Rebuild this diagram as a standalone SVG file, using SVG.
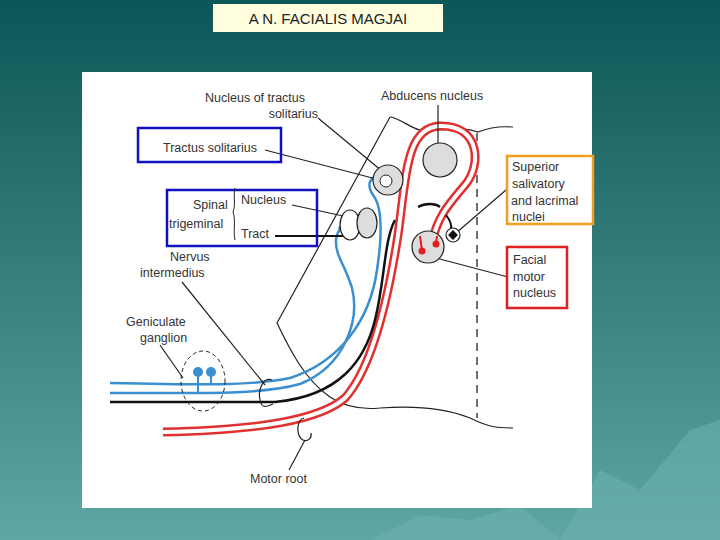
<svg xmlns="http://www.w3.org/2000/svg" width="720" height="540" viewBox="0 0 720 540">
<defs>
<linearGradient id="bg" x1="0" y1="0" x2="0" y2="1"><stop offset="0" stop-color="#0b5656"/><stop offset="1" stop-color="#5fa6a4"/></linearGradient>
<marker id="ab" markerWidth="6" markerHeight="6" refX="5" refY="3" orient="auto"><path d="M0,0L6,3L0,6z" fill="#3a8fd0"/></marker>
</defs>
<style>
text{font-family:"Liberation Sans",Arial,sans-serif;font-size:12.5px;fill:#333}
.ld{stroke:#222;stroke-width:1.2;fill:none}
.ol{stroke:#222;stroke-width:1.2;fill:none}
.bl{stroke:#3a8fd0;stroke-width:2.5;fill:none}
.nuc{fill:#ddd;stroke:#222;stroke-width:1.2}
</style>
<rect width="720" height="540" fill="url(#bg)"/>
<path d="M560,540 L600,470 L640,490 L690,430 L720,420 L720,540Z" fill="#6fb3b3" opacity="0.5"/>
<path d="M370,540 L420,515 L470,520 L520,505 L560,540Z" fill="#6fb3b3" opacity="0.5"/>
<g id="title"><rect x="213" y="4" width="230" height="28" fill="#ffffe0"/><text x="328" y="24" text-anchor="middle" style="font-size:15px;fill:#222">A N. FACIALIS MAGJAI</text></g>
<rect x="82" y="72" width="510" height="436" fill="#fff"/>
<g id="brainstem">
<path class="ol" d="M390,117 L277,323 C290,350 305,380 330,397 C345,407 360,410 380,408 C420,405 450,410 470,418 C490,428 500,428 513,428"/>
<path class="ol" d="M390,117 C400,118 410,128 420,130 C440,132 460,125 478,132 C488,128 500,126 513,127"/>
<path d="M477,133 L477,418" stroke="#222" stroke-width="1.3" stroke-dasharray="8,6"/>
</g>
<g id="connectors">
<path id="red" d="M163,432 C260,430 320,420 345,398 C372,368 388,300 398,235 C406,180 405,127 440,126 C480,125 482,165 465,185 C450,203 438,215 432,242" fill="none" stroke="#e03030" stroke-width="9"/>
<path d="M163,432 C260,430 320,420 345,398 C372,368 388,300 398,235 C406,180 405,127 440,126 C480,125 482,165 465,185 C450,203 438,215 432,242" fill="none" stroke="#fff" stroke-width="4"/>
<path class="bl" d="M110,383 C200,385 250,386 290,378 C340,362 370,320 377,270 C383,230 381,205 373,195 C365,182 372,172 386,180" marker-end="url(#ab)"/>
<path class="bl" d="M110,393 C200,393 260,395 300,384 C345,366 360,320 352,288 C345,265 335,255 336,240 C337,228 345,225 352,229" marker-end="url(#ab)"/>
<path d="M110,402 L275,402 C340,396 365,360 375,320 C385,280 384,240 395,220" fill="none" stroke="#111" stroke-width="2.5"/>
<path d="M418,207 C425,203 435,203 440,207" stroke="#111" stroke-width="2.5" fill="none"/>
<path d="M446,215 C450,220 452,225 451,230" stroke="#111" stroke-width="2" fill="none"/>
<path class="ld" d="M318,118 L388,176"/><path class="ld" d="M438,105 L438,160"/>
<path class="ld" d="M265,150 L384,181"/><path class="ld" d="M292,205 L362,220"/>
<path d="M275,236 L352,236" stroke="#111" stroke-width="2"/>
<path class="ld" d="M182,282 L265,385"/><path class="ld" d="M160,345 L183,378"/>
<path class="ld" d="M506,190 L456,233"/><path class="ld" d="M508,277 L436,258"/>
<path class="ld" d="M289,470 L305,440"/>
</g>
<g id="abducens"><circle cx="440" cy="160" r="17" class="nuc"/></g>
<g id="nts"><circle cx="388" cy="180" r="15" class="nuc"/><circle cx="386" cy="181" r="6" fill="#fff" stroke="#222"/></g>
<g id="spinal"><ellipse cx="350" cy="225" rx="10" ry="15" fill="#fff" stroke="#222" stroke-width="1.2"/><ellipse cx="367" cy="223" rx="10" ry="15" class="nuc"/></g>
<g id="facial"><circle cx="428" cy="247" r="16" class="nuc"/><circle cx="422" cy="251" r="3.5" fill="#e02020"/><circle cx="436" cy="244" r="3.5" fill="#e02020"/><path d="M422,251 L420,236 M436,244 L437,236" stroke="#e02020" stroke-width="2"/></g>
<g id="ssn"><circle cx="453" cy="235" r="7" fill="#fff" stroke="#222" stroke-width="1.2"/><rect x="449.5" y="231.5" width="7" height="7" transform="rotate(45 453 235)" fill="#111"/></g>
<g id="ganglion"><ellipse cx="203" cy="381" rx="22" ry="30" fill="none" stroke="#222" stroke-dasharray="4,3"/><circle cx="198" cy="372" r="5" fill="#3a8fd0"/><circle cx="211" cy="372" r="5" fill="#3a8fd0"/><path d="M198,372 L198,393 M211,372 L211,384" stroke="#3a8fd0" stroke-width="2"/></g>
<g id="rings"><path class="ol" d="M272,380 C262,376 258,392 260,400 C262,410 268,406 273,404"/><path class="ol" d="M304,418 C296,420 296,436 303,440 C308,442 312,438 311,433"/></g>
<g id="labels">
<text x="205" y="102">Nucleus of tractus</text><text x="318" y="118" text-anchor="end">solitarius</text>
<text x="381" y="100">Abducens nucleus</text>
<rect x="138" y="128" width="143" height="34" fill="none" stroke="#1010c0" stroke-width="2.5"/><text x="163" y="152">Tractus solitarius</text>
<rect x="167" y="190" width="150" height="56" fill="none" stroke="#1010c0" stroke-width="2.5"/>
<text x="193" y="209">Spinal</text><text x="169" y="228">trigeminal</text>
<path d="M235,188 C233,195 236,205 233,212 C236,220 233,232 235,240" stroke="#222" fill="none"/>
<text x="241" y="204">Nucleus</text><text x="241" y="238">Tract</text>
<text x="170" y="261">Nervus</text><text x="140" y="277">intermedius</text>
<text x="126" y="326">Geniculate</text><text x="140" y="342">ganglion</text>
<rect x="507" y="156" width="86" height="68" fill="none" stroke="#f0a020" stroke-width="2.5"/>
<text x="512" y="171">Superior</text><text x="512" y="188">salivatory</text><text x="511" y="205">and lacrimal</text><text x="512" y="221">nuclei</text>
<rect x="507" y="247" width="60" height="61" fill="none" stroke="#e02020" stroke-width="2.5"/>
<text x="513" y="264">Facial</text><text x="513" y="281">motor</text><text x="513" y="297">nucleus</text>
<text x="250" y="483">Motor root</text>
</g>
</svg>
